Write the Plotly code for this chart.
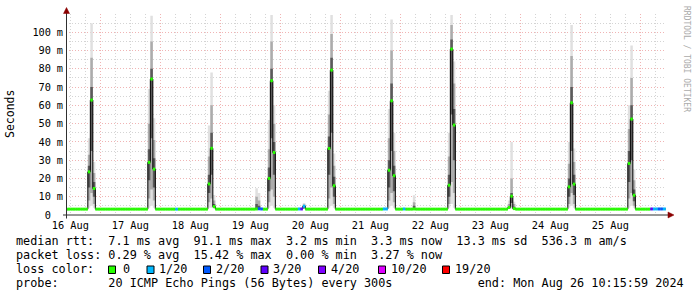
import plotly.graph_objects as go
import pandas as pd

FONT = "DejaVu Sans Mono"
W, H = 697, 297
L, R, T, B = 66, 31, 14, 82          # plot area 66..666 x 14..215

def PX(x):
    return (x - L) / (W - L - R)

def PY(y):
    return (H - B - y) / (H - T - B)

# ---------------- data ----------------
X_RANGE = ["2024-08-16 10:16:00", "2024-08-26 10:16:00"]
FIRST_STEP = "2024-08-16 10:00"
N_STEPS = 241                      # hourly consolidated steps
BASE_MEDIAN = 3.2                  # ms, quiet-time median rtt

DAY_TICKS = ["2024-08-%02d 12:00" % d for d in range(16, 26)]
DAY_TEXT = ["%d Aug" % d for d in range(16, 26)]
MIDNIGHTS = ["2024-08-%02d 00:00" % d for d in range(17, 27)]
SIX_HOURS = ["2024-08-%02d %s" % (d, h) for d in range(16, 27) for h in ("06:00", "12:00", "18:00")]

Y_TICKS = [0, 10, 20, 30, 40, 50, 60, 70, 80, 90, 100]
Y_TICK_NUM = ["0", "10", "20", "30", "40", "50", "60", "70", "80", "90", "100"]
Y_TICK_UNIT = ["", "m", "m", "m", "m", "m", "m", "m", "m", "m", "m"]
Y_MINOR = [5, 15, 25, 35, 45, 55, 65, 75, 85, 95, 105]

LOSS_LABELS = ["0", "1/20", "2/20", "3/20", "4/20", "10/20", "19/20"]
LOSS_COLORS = ["#26ff00", "#00b8ff", "#0059ff", "#5e00ff", "#7e00ff", "#dd00ff", "#ff0000"]

# evening congestion peaks: first hourly step, medians of 3 steps (ms)
PEAK_START = ["2024-08-%02d 19:00" % d for d in range(16, 26)]
PEAK_MEDIAN = [
    [23.6, 62.9, 14.5],
    [28.8, 74.4, 25.1],
    [17.0, 36.5, 4.6],
    [20.0, 73.5, 34.2],
    [36.4, 79.3, 16.0],
    [24.5, 62.5, 21.5],
    [16.3, 90.8, 49.2],
    [4.1, 10.3, 3.5],
    [15.4, 61.4, 16.9],
    [28.2, 52.5, 10.8],
]
# smoke per step: (min, low, inner low, inner high, high, max) in ms
PEAK_SMOKE = [
    [(4, 8, 15, 27, 33, 42), (5, 12, 35, 70, 86, 105), (4, 6, 10, 18, 23, 29)],
    [(4, 9, 19, 36, 50, 69), (5, 14, 42, 80, 95, 109), (4, 8, 15, 31, 41, 53)],
    [(4, 7, 12, 22, 32, 49), (4, 9, 22, 45, 60, 78), (3.5, 4, 4.3, 6, 8, 11)],
    [(4, 7, 13, 26, 36, 52), (5, 14, 42, 80, 95, 109.5), (4, 10, 22, 40, 50, 60)],
    [(4, 9, 22, 43, 55, 68), (5, 15, 45, 86, 99, 109.5), (4, 6, 10, 21, 27, 33.7)],
    [(4, 8, 15, 30, 42, 58), (5, 12, 35, 72, 90, 107), (4, 7, 13, 27, 35, 45)],
    [(4, 6, 10, 22, 32, 45), (6, 18, 55, 96, 104, 109.5), (4, 12, 30, 58, 72, 84)],
    [(3.3, 3.6, 3.9, 4.6, 6, 8), (3.5, 4.2, 6.5, 12, 20, 40), (3.2, 3.3, 3.4, 4.5, 6, 7.2)],
    [(4, 6, 10, 20, 28, 40), (5, 12, 35, 70, 87, 104), (4, 6, 11, 22, 29, 36.4)],
    [(4, 9, 18, 35, 47, 60), (5, 12, 30, 60, 75, 92.7), (4, 5, 7.5, 14, 19, 24.9)],
]
# other notable steps: (time, median ms, loss level index, smoke or None)
EXTRA_STEPS = [
    ("2024-08-18 06:00", 3.2, 1, None),
    ("2024-08-19 14:00", 3.3, 0, (3.2, 3.3, 3.4, 6.0, 10.0, 14.6)),
    ("2024-08-19 15:00", 3.4, 2, (3.2, 3.3, 3.4, 5.0, 8.0, 12.0)),
    ("2024-08-19 16:00", 3.3, 2, None),
    ("2024-08-20 07:00", 3.3, 1, None),
    ("2024-08-20 08:00", 3.3, 3, None),
    ("2024-08-20 09:00", 4.8, 1, (3.3, 3.6, 4.0, 5.2, 5.8, 6.5)),
    ("2024-08-21 17:00", 3.3, 1, None),
    ("2024-08-21 18:00", 3.3, 1, None),
    ("2024-08-22 01:00", 3.3, 1, None),
    ("2024-08-22 05:00", 3.3, 0, (3.2, 3.4, 3.6, 5.0, 7.0, 10.8)),
    ("2024-08-26 04:00", 3.3, 3, None),
    ("2024-08-26 05:00", 3.3, 1, None),
    ("2024-08-26 06:00", 3.3, 1, None),
    ("2024-08-26 07:00", 3.3, 2, None),
    ("2024-08-26 08:00", 3.3, 2, None),
    ("2024-08-26 09:00", 3.3, 1, None),
    ("2024-08-26 10:00", 3.3, 1, None),
]

LEGEND_ROWS = [
    "median rtt:  7.1 ms avg  91.1 ms max  3.2 ms min  3.3 ms now  13.3 ms sd  536.3 m am/s",
    "packet loss: 0.29 % avg  15.42 % max  0.00 % min  3.27 % now",
    "loss color:",
    "probe:       20 ICMP Echo Pings (56 Bytes) every 300s            end: Mon Aug 26 10:15:59 2024",
]

# ---------------- build hourly series ----------------
times = list(pd.date_range(FIRST_STEP, periods=N_STEPS, freq="h"))
pos = {t: i for i, t in enumerate(times)}
median = [BASE_MEDIAN] * N_STEPS
loss = [0] * N_STEPS
smoke = [(BASE_MEDIAN,) * 6 for _ in range(N_STEPS)]
for start, meds, sms in zip(PEAK_START, PEAK_MEDIAN, PEAK_SMOKE):
    i0 = pos[pd.Timestamp(start)]
    for j, (m, s) in enumerate(zip(meds, sms)):
        median[i0 + j] = m
        smoke[i0 + j] = s
for t, m, lv, s in EXTRA_STEPS:
    i = pos[pd.Timestamp(t)]
    median[i] = m
    loss[i] = lv
    if s:
        smoke[i] = s

xs = times + [times[-1] + pd.Timedelta(hours=1)]

fig = go.Figure()

BAND_COLORS = ["#e0e0e0", "#acacac", "#5a5a5a"]
for lvl, col in enumerate(BAND_COLORS):
    lo = [s[lvl] for s in smoke]
    hi = [s[5 - lvl] for s in smoke]
    fig.add_trace(go.Scatter(x=xs, y=lo + [lo[-1]], mode="lines",
                             line=dict(width=0, shape="hv"), hoverinfo="skip", showlegend=False))
    fig.add_trace(go.Scatter(x=xs, y=hi + [hi[-1]], mode="lines", fill="tonexty", fillcolor=col,
                             line=dict(width=0, shape="hv"), hoverinfo="skip", showlegend=False))

fig.add_trace(go.Scatter(x=xs, y=median + [median[-1]], mode="lines",
                         line=dict(width=1, color="#000000", shape="hv"),
                         hoverinfo="skip", showlegend=False))

for lvl, col in enumerate(LOSS_COLORS):
    sx, sy = [], []
    for i in range(N_STEPS):
        if loss[i] == lvl:
            sx += [xs[i], xs[i + 1], None]
            sy += [median[i], median[i], None]
    if sx:
        fig.add_trace(go.Scatter(x=sx, y=sy, mode="lines", line=dict(width=3, color=col),
                                 hoverinfo="skip", showlegend=False))

GRID_MAJOR = "#f0b4b4"
GRID_MINOR = "#d4d4d4"
DASH = "1px,2px"
tickfont = dict(family=FONT, size=10.3, color="#000000")
UNIT_W = 12     # width of " m" in the tick font, px

fig.update_layout(
    width=W, height=H,
    margin=dict(l=L, r=R, t=T, b=B),
    paper_bgcolor="#ffffff", plot_bgcolor="#ffffff",
    showlegend=False,
    xaxis=dict(type="date", range=X_RANGE, tickmode="array", tickvals=MIDNIGHTS,
               showticklabels=False, ticks="", showgrid=True, gridcolor=GRID_MAJOR,
               griddash=DASH, gridwidth=1, zeroline=False, showline=False,
               minor=dict(tickmode="array", tickvals=SIX_HOURS, showgrid=True,
                          gridcolor=GRID_MINOR, griddash=DASH, gridwidth=1, ticks="")),
    xaxis2=dict(type="date", range=X_RANGE, overlaying="x", anchor="y", side="bottom",
                tickmode="array", tickvals=DAY_TICKS, ticktext=DAY_TEXT, tickfont=tickfont,
                showgrid=False, zeroline=False, showline=False, ticks="", ticklabelstandoff=3),
    yaxis=dict(range=[0, 110], tickmode="array", tickvals=Y_TICKS, ticktext=Y_TICK_NUM,
               tickfont=tickfont, ticks="", showgrid=True, gridcolor=GRID_MAJOR,
               griddash=DASH, gridwidth=1, zeroline=False, showline=False,
               ticklabelstandoff=2 + UNIT_W,
               minor=dict(tickmode="array", tickvals=Y_MINOR, showgrid=True,
                          gridcolor=GRID_MINOR, griddash=DASH, gridwidth=1, ticks="")),
    yaxis2=dict(range=[0, 110], overlaying="y", anchor="x", side="left",
                tickmode="array", tickvals=Y_TICKS, ticktext=Y_TICK_UNIT, tickfont=tickfont,
                ticks="", showgrid=False, zeroline=False, showline=False, ticklabelstandoff=2),
)
# invisible traces so the overlay axes are drawn
fig.add_trace(go.Scatter(x=[X_RANGE[0]], y=[None], xaxis="x2", yaxis="y", mode="markers",
                         hoverinfo="skip", showlegend=False))
fig.add_trace(go.Scatter(x=[X_RANGE[0]], y=[None], xaxis="x", yaxis="y2", mode="markers",
                         hoverinfo="skip", showlegend=False))

shapes = []
AXIS_COL = "#303030"
ARROW_COL = "#8b0000"
shapes.append(dict(type="line", xref="paper", yref="paper", x0=PX(66.5), x1=PX(66.5),
                   y0=PY(218.5), y1=PY(10), line=dict(color=AXIS_COL, width=1)))
shapes.append(dict(type="line", xref="paper", yref="paper", x0=PX(63), x1=PX(670),
                   y0=PY(215), y1=PY(215), line=dict(color=AXIS_COL, width=1)))
shapes.append(dict(type="path", xref="paper", yref="paper",
                   path="M %f,%f L %f,%f L %f,%f Z" % (PX(66.5), PY(7.5), PX(63.5), PY(13.5), PX(69.5), PY(13.5)),
                   fillcolor=ARROW_COL, line=dict(color=ARROW_COL, width=0.5)))
shapes.append(dict(type="path", xref="paper", yref="paper",
                   path="M %f,%f L %f,%f L %f,%f Z" % (PX(674), PY(215), PX(668), PY(212), PX(668), PY(218)),
                   fillcolor=ARROW_COL, line=dict(color=ARROW_COL, width=0.5)))

# legend boxes
BOX_X = [108.5, 147, 203.5, 261, 318.5, 378.5, 442.5]
TXT_X = [123.3, 159.3, 215.7, 273.3, 330.7, 391, 455]
for bx, col in zip(BOX_X, LOSS_COLORS):
    shapes.append(dict(type="rect", xref="paper", yref="paper", x0=PX(bx), x1=PX(bx + 7),
                       y0=PY(273.5), y1=PY(266), fillcolor=col, line=dict(color="#000000", width=1)))
fig.update_layout(shapes=shapes)

ann = []
legfont = dict(family=FONT, size=11.8, color="#000000")
ROW_Y = [241, 255, 269, 283]
for txt, ry in zip(LEGEND_ROWS, ROW_Y):
    ann.append(dict(text=txt.replace(" ", "\u00a0"), x=PX(14), y=PY(ry), xref="paper", yref="paper",
                    xanchor="left", yanchor="middle", showarrow=False, font=legfont))
for tx, lab in zip(TXT_X, LOSS_LABELS):
    ann.append(dict(text=lab, x=PX(tx - 2), y=PY(269), xref="paper", yref="paper",
                    xanchor="left", yanchor="middle", showarrow=False, font=legfont))
ann.append(dict(text="Seconds", x=PX(10), y=PY(114), xref="paper", yref="paper", textangle=-90,
                xanchor="center", yanchor="middle", showarrow=False,
                font=dict(family=FONT, size=11.5, color="#000000")))
ann.append(dict(text="RRDTOOL / TOBI OETIKER".replace(" ", "\u00a0"), x=PX(686), y=PY(59),
                xref="paper", yref="paper", textangle=90, xanchor="center", yanchor="middle",
                showarrow=False, font=dict(family=FONT, size=8, color="#aaaaaa")))
fig.update_layout(annotations=ann)

fig.write_html("out.html")
